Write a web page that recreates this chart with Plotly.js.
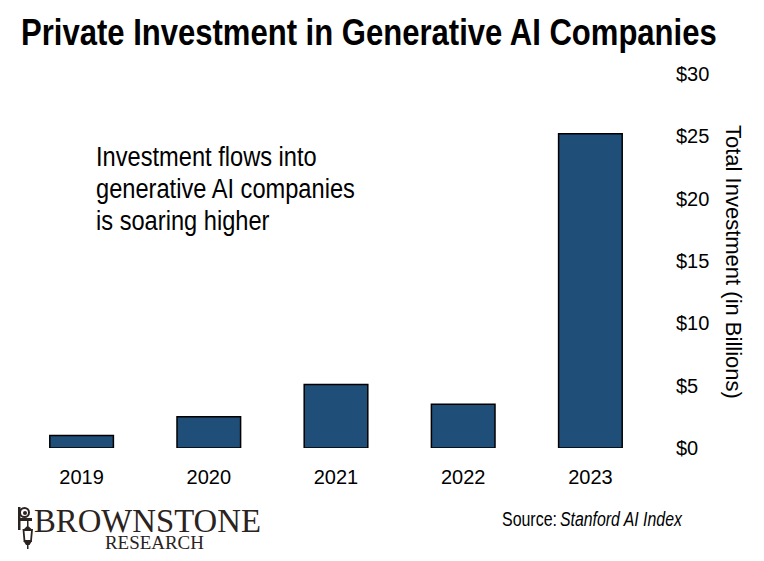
<!DOCTYPE html>
<html>
<head>
<meta charset="utf-8">
<script src="https://cdn.plot.ly/plotly-3.0.1.min.js"></script>
<style>html,body{margin:0;padding:0;background:#fff;}#chart{width:764px;height:561px;}</style>
</head>
<body>
<div id="chart"></div>
<script>
const years = ['2019', '2020', '2021', '2022', '2023'];
const investment = [1.0, 2.5, 5.1, 3.5, 25.2];
const yTicks = [0, 5, 10, 15, 20, 25, 30];
const yTickText = ['$0', '$5', '$10', '$15', '$20', '$25', '$30'];
const noteLines = ['Investment flows into', 'generative AI companies', 'is soaring higher'];

const arial = '"Liberation Sans", Arial, sans-serif';
const serif = '"Liberation Serif", "DejaVu Serif", serif';

// pixel -> paper helpers (plot area: x 18..654, y 74..448)
const ML = 18, MR = 110, MT = 74, MB = 113, W = 764, H = 561;
const PW = W - ML - MR, PH = H - MT - MB;
const px = x => (x - ML) / PW;
const py = y => (H - MB - y) / PH;

const trace = {
  type: 'bar',
  x: years,
  y: investment,
  marker: {color: '#1f4e79', line: {color: '#000', width: 1.5}},
  width: 0.5,
  hoverinfo: 'skip'
};

function ann(text, x, y, size, family, color, extra) {
  return Object.assign({text: text, xref: 'paper', yref: 'paper', x: px(x), y: py(y),
    xanchor: 'left', yanchor: 'middle', align: 'left', showarrow: false, borderpad: 0,
    font: {family: family, size: size, color: color}}, extra || {});
}

const annotations = [
  ann('<b>Private Investment in Generative AI Companies</b>', 20, 32, 37, arial, '#000'),
  ann(noteLines[0], 95, 156, 28, arial, '#000'),
  ann(noteLines[1], 95, 188, 28, arial, '#000'),
  ann(noteLines[2], 95, 220, 28, arial, '#000'),
  {text: 'Total Investment (in Billions)', xref: 'paper', yref: 'paper', x: px(734), y: py(262),
   xanchor: 'center', yanchor: 'middle', textangle: 90, showarrow: false,
   font: {family: arial, size: 22, color: '#000'}},
  ann('Source:', 501, 518, 21, arial, '#000'),
  ann('<i>Stanford AI Index</i>', 559, 518, 21, arial, '#000'),
  ann('BROWNSTONE', 33, 521, 33, serif, '#2b2320'),
  ann('RESEARCH', 104, 542, 19, serif, '#2b2320')
];
// target widths (px) for condensed-looking text; null = leave, 'f' = same factor as line 2
const targets = [696, 'f', 259, 'f', null, 55, 122, 227, 99];

// decorative lantern logo
function pth(pts) {
  return pts.map((p, i) => (i ? 'L' : 'M') + px(p[0]).toFixed(5) + ',' + py(p[1]).toFixed(5)).join(' ') + ' Z';
}
const ink = '#2b2320';
const shapes = [
  {type: 'rect', xref: 'paper', yref: 'paper', x0: px(18), x1: px(20.5), y0: py(530), y1: py(507), fillcolor: ink, line: {width: 0}},
  {type: 'circle', xref: 'paper', yref: 'paper', x0: px(20), x1: px(29), y0: py(517), y1: py(508), fillcolor: 'rgba(0,0,0,0)', line: {color: ink, width: 2}},
  {type: 'circle', xref: 'paper', yref: 'paper', x0: px(23), x1: px(27), y0: py(515), y1: py(511), fillcolor: ink, line: {width: 0}},
  {type: 'path', xref: 'paper', yref: 'paper', path: pth([[20, 518], [32, 518], [32, 521], [20, 521]]), fillcolor: ink, line: {width: 0}},
  {type: 'path', xref: 'paper', yref: 'paper', path: pth([[27, 521], [28.5, 521], [28.5, 526], [27, 526]]), fillcolor: ink, line: {width: 0}},
  {type: 'path', xref: 'paper', yref: 'paper', path: pth([[23, 530], [27.7, 525.5], [32.5, 530]]), fillcolor: ink, line: {width: 0}},
  {type: 'path', xref: 'paper', yref: 'paper', path: pth([[23.5, 530], [32, 530], [31, 541], [24.5, 541]]), fillcolor: 'rgba(0,0,0,0)', line: {color: ink, width: 1.8}},
  {type: 'path', xref: 'paper', yref: 'paper', path: pth([[23.5, 541], [32, 541], [29.5, 545], [26, 545]]), fillcolor: ink, line: {width: 0}},
  {type: 'rect', xref: 'paper', yref: 'paper', x0: px(27), x1: px(28.5), y0: py(549), y1: py(545), fillcolor: ink, line: {width: 0}}
];

const layout = {
  width: W, height: H,
  margin: {l: ML, r: MR, t: MT, b: MB},
  paper_bgcolor: '#fff', plot_bgcolor: '#fff',
  showlegend: false,
  bargap: 0.5,
  xaxis: {
    type: 'category',
    showgrid: false, zeroline: false, showline: false,
    ticks: '', ticklabelstandoff: 15,
    tickfont: {family: arial, size: 20, color: '#000'}
  },
  yaxis: {
    side: 'right', range: [0, 30],
    tickmode: 'array', tickvals: yTicks, ticktext: yTickText,
    showgrid: false, zeroline: false, showline: false,
    ticks: '', ticklabelstandoff: 21,
    tickfont: {family: arial, size: 20, color: '#000'}
  },
  annotations: annotations,
  shapes: shapes
};

Plotly.newPlot('chart', [trace], layout, {staticPlot: true, displayModeBar: false}).then(function (gd) {
  const groups = gd.querySelectorAll('.annotation');
  let factor = 0.84;
  groups.forEach(function (g) {
    const i = +g.getAttribute('data-index');
    const t = g.querySelector('text');
    if (i === 2 && t) factor = targets[2] / t.getComputedTextLength();
  });
  groups.forEach(function (g) {
    const i = +g.getAttribute('data-index');
    const t = g.querySelector('text');
    if (!t || targets[i] === null) return;
    const cur = t.getComputedTextLength();
    const s = targets[i] === 'f' ? factor : targets[i] / cur;
    const x0 = t.getBBox().x;
    // horizontal condensing, anchored at the text start
    t.setAttribute('transform', 'translate(' + (x0 * (1 - s)).toFixed(2) + ',0) scale(' + s.toFixed(4) + ',1)');
    const bg = g.querySelector('rect.bg');
    if (bg) bg.setAttribute('width', (cur * s + 2).toFixed(1));
  });
});
</script>
</body>
</html>
